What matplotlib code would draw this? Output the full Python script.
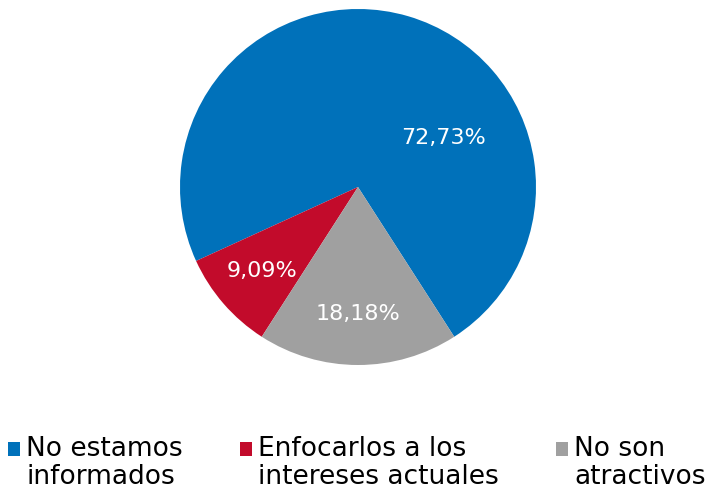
import matplotlib
matplotlib.use("Agg")
import matplotlib.pyplot as plt

# data
labels = ["No estamos\ninformados", "Enfocarlos a los\nintereses actuales", "No son\natractivos"]
values = [72.73, 9.09, 18.18]
colors = ["#0071BA", "#C20B2B", "#A0A0A0"]

plt.rcParams['font.family'] = ['DejaVu Sans']

fig = plt.figure(figsize=(7.10, 4.89), dpi=100)
# axes placed so the pie sits where it does in the reference
ax = fig.add_axes([180 / 710, 1 - 366 / 489, 356 / 710, 356 / 489])

# gray slice centred at the bottom, slices go counterclockwise
start = -90 + values[2] * 3.6 / 2
wedges, texts, autotexts = ax.pie(values, colors=colors, startangle=start, counterclock=True,
                                  autopct=lambda p: f"{p:.2f}%".replace(".", ","),
                                  pctdistance=0.71, textprops=dict(color="white", fontsize=16))
ax.set_xlim(-1, 1)
ax.set_ylim(-1, 1)
ax.set_aspect("equal")

# excel puts the big label off its mid-angle
autotexts[0].set_position((0.48, 0.28))

leg = fig.legend(wedges, labels, loc="lower left", bbox_to_anchor=(-0.011, -0.035), ncol=3,
                 frameon=False, fontsize=19, handlelength=0.45, handleheight=0.45,
                 handletextpad=0.25, columnspacing=2.15, borderaxespad=0.2)
for t in leg.get_texts():
    t.set_linespacing(1.1)
# put the little squares next to the first line, like excel does
for h in leg.legend_handles:
    h.set_y(h.get_y() + 10)

fig.savefig("out.png", dpi=100)
